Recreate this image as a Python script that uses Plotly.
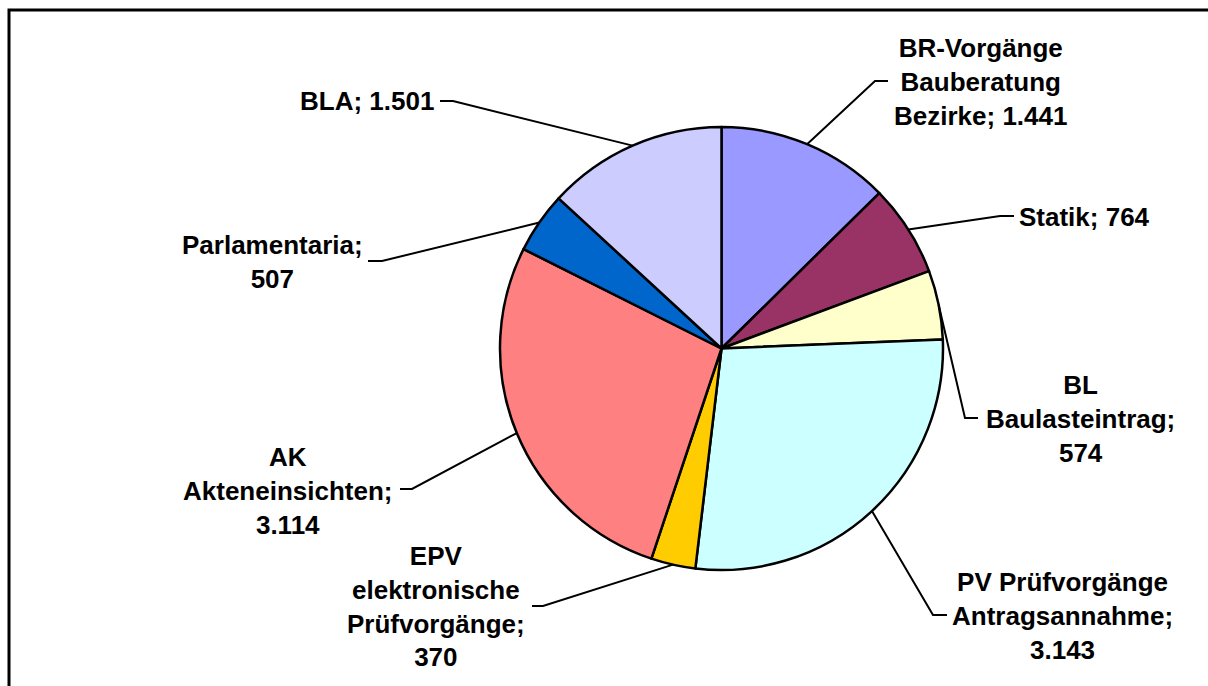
import math
import plotly.graph_objects as go

# ---- data ----
categories = [
    "BR-Vorgänge<br>Bauberatung<br>Bezirke",
    "Statik",
    "BL<br>Baulasteintrag",
    "PV Prüfvorgänge<br>Antragsannahme",
    "EPV<br>elektronische<br>Prüfvorgänge",
    "AK<br>Akteneinsichten",
    "Parlamentaria",
    "BLA",
]
values = [1441, 764, 574, 3143, 370, 3114, 507, 1501]
value_labels = ["1.441", "764", "574", "3.143", "370", "3.114", "507", "1.501"]
# how the "; value" is joined (same line or new line), as in the reference
label_joins = ["; ", "; ", ";<br>", ";<br>", ";<br>", ";<br>", ";<br>", "; "]
colors = ["#9999FF", "#993366", "#FFFFCC", "#CCFFFF", "#FFCC00", "#FF8080", "#0066CC", "#CCCCFF"]

# ---- layout (pixels) ----
W, H = 1208, 686
CX, CY, R = 721.5, 348.5, 221.5
# label block centres
label_pos = [(980, 82), (1084, 217), (1080, 419), (1062, 616),
             (436, 606), (288, 491), (272, 262), (367, 101)]
# leader line bend point and end point
bend_pts = [(875, 81), (1000, 216), (965, 418), (933, 615),
            (543, 606), (412, 489), (382, 261), (453, 101)]
end_pts = [(888, 81), (1014, 216), (978, 418), (947, 615),
           (532, 606), (400, 489), (368, 261), (440, 101)]


def px(x):
    return x / W


def py(y):
    return 1 - y / H


fig = go.Figure(go.Pie(
    labels=[c.replace("<br>", " ") for c in categories],
    values=values,
    sort=False,
    direction="clockwise",
    rotation=0,
    marker=dict(colors=colors, line=dict(color="black", width=2.5)),
    textinfo="none",
    hoverinfo="label+value",
    domain=dict(x=[px(CX - R), px(CX + R)], y=[py(CY + R), py(CY - R)]),
    showlegend=False,
))

total = sum(values)
shapes = []
annotations = []
cum = 0
for i, v in enumerate(values):
    mid = (cum + v / 2) / total * 2 * math.pi
    cum += v
    ex = CX + R * math.sin(mid)
    ey = CY - R * math.cos(mid)
    bx, by = bend_pts[i]
    tx, ty = end_pts[i]
    path = f"M {px(ex)},{py(ey)} L {px(bx)},{py(by)} L {px(tx)},{py(ty)}"
    shapes.append(dict(type="path", xref="paper", yref="paper", path=path,
                       line=dict(color="black", width=2)))
    lx, ly = label_pos[i]
    annotations.append(dict(
        x=px(lx), y=py(ly), xref="paper", yref="paper",
        text=categories[i] + label_joins[i] + value_labels[i],
        showarrow=False, xanchor="center", yanchor="middle", align="center",
        font=dict(family="Arial, Liberation Sans, sans-serif", size=26,
                  color="black", weight="bold"),
    ))

# chart frame (only top and left sides are visible in the crop)
shapes.append(dict(type="path", xref="paper", yref="paper",
                   path=f"M {px(9)},{py(H)} L {px(9)},{py(10)} L {px(W)},{py(10)}",
                   line=dict(color="black", width=3)))

fig.update_layout(
    width=W, height=H,
    margin=dict(l=0, r=0, t=0, b=0),
    paper_bgcolor="white", plot_bgcolor="white",
    shapes=shapes, annotations=annotations,
)

fig.write_html(
    "out.html",
    config={"displayModeBar": False},
    post_script="document.body.style.margin='0';document.body.style.overflow='hidden';",
)
